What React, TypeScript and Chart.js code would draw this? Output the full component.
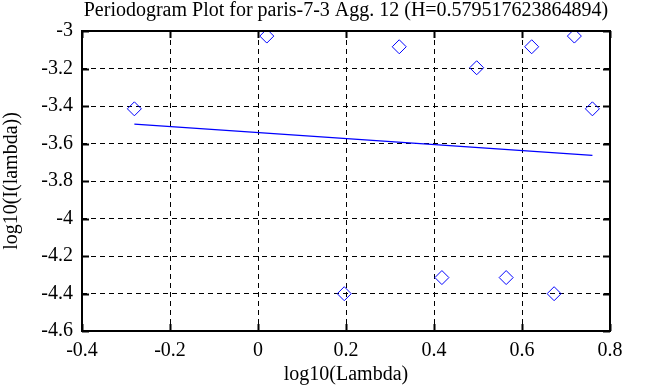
import React, { useEffect, useRef } from "react";
import { Chart, registerables } from "chart.js";

Chart.register(...registerables);

const chartTitle = "Periodogram Plot for paris-7-3 Agg. 12 (H=0.579517623864894)";
const xAxisTitle = "log10(Lambda)";
const yAxisTitle = "log10(I(lambda))";

const lambdaLog = [-0.281, 0.02, 0.196, 0.321, 0.418, 0.497, 0.564, 0.622, 0.673, 0.719, 0.76];
const periodogramLog = [-3.415, -3.027, -4.401, -3.084, -4.315, -3.196, -4.315, -3.084, -4.401, -3.027, -3.415];
const fitX = [-0.281, 0.76];
const fitY = [-3.497, -3.663];

const xTicks = [-0.4, -0.2, 0, 0.2, 0.4, 0.6, 0.8];
const yTicks = [-4.6, -4.4, -4.2, -4, -3.8, -3.6, -3.4, -3.2, -3];

const FONT_FAMILY = '"Liberation Serif", "Times New Roman", serif';
const FONT_SIZE = 20;

const fmt = (v: number) => String(Number(v.toFixed(1)));

const framePlugin = {
  id: "frame",
  afterDraw(chart: any) {
    const { ctx, chartArea } = chart;
    const { left, right, top, bottom } = chartArea;
    ctx.save();
    ctx.strokeStyle = "#000";
    ctx.lineWidth = 2;
    const tl = 7;
    const xs = chart.scales.x;
    const ys = chart.scales.y;
    ctx.beginPath();
    for (const t of xTicks) {
      const px = Math.round(xs.getPixelForValue(t)) + 0.5;
      ctx.moveTo(px, bottom);
      ctx.lineTo(px, bottom - tl);
      ctx.moveTo(px, top);
      ctx.lineTo(px, top + tl);
    }
    for (const t of yTicks) {
      const py = Math.round(ys.getPixelForValue(t)) + 0.5;
      ctx.moveTo(left, py);
      ctx.lineTo(left + tl, py);
      ctx.moveTo(right, py);
      ctx.lineTo(right - tl, py);
    }
    ctx.stroke();
    ctx.lineWidth = 2;
    ctx.strokeRect(left, top, right - left, bottom - top);
    ctx.fillStyle = "#000";
    ctx.font = `${FONT_SIZE}px ${FONT_FAMILY}`;
    ctx.textAlign = "center";
    ctx.textBaseline = "middle";
    ctx.fillText(chartTitle, (left + right) / 2, 11);
    ctx.restore();
  },
};

export default function App() {
  const ref = useRef<HTMLCanvasElement | null>(null);
  useEffect(() => {
    if (!ref.current) return;
    const chart = new Chart(ref.current, {
      type: "scatter",
      data: {
        datasets: [
          {
            label: "fit",
            data: fitX.map((x, i) => ({ x, y: fitY[i] })),
            showLine: true,
            borderColor: "#0000ff",
            borderWidth: 1.2,
            pointRadius: 0,
            fill: false,
          },
          {
            label: "periodogram",
            data: lambdaLog.map((x, i) => ({ x, y: periodogramLog[i] })),
            showLine: false,
            pointStyle: "rectRot",
            pointRadius: 7,
            borderColor: "#0000ff",
            backgroundColor: "rgba(0,0,0,0)",
            borderWidth: 1,
          },
        ],
      },
      options: {
        responsive: false,
        animation: false,
        layout: { padding: { left: 0, top: 31, right: 43, bottom: 0 } },
        plugins: { legend: { display: false }, title: { display: false }, tooltip: { enabled: false } },
        scales: {
          x: {
            type: "linear",
            min: -0.4,
            max: 0.8,
            afterBuildTicks: (s: any) => {
              s.ticks = xTicks.map((v) => ({ value: v }));
            },
            afterFit: (s: any) => {
              s.height = 56;
            },
            grid: { color: "#000", lineWidth: 1, drawTicks: false },
            border: { display: false, dash: [5, 4] },
            ticks: {
              color: "#000",
              padding: 8,
              maxRotation: 0,
              font: { family: FONT_FAMILY, size: FONT_SIZE },
              callback: (v: any) => fmt(Number(v)),
            },
            title: {
              display: true,
              text: xAxisTitle,
              color: "#000",
              padding: 0,
              font: { family: FONT_FAMILY, size: FONT_SIZE },
            },
          },
          y: {
            type: "linear",
            min: -4.6,
            max: -3,
            afterBuildTicks: (s: any) => {
              s.ticks = yTicks.map((v) => ({ value: v }));
            },
            afterFit: (s: any) => {
              s.width = 82;
            },
            grid: { color: "#000", lineWidth: 1, drawTicks: false },
            border: { display: false, dash: [5, 4] },
            ticks: {
              color: "#000",
              padding: 9,
              font: { family: FONT_FAMILY, size: FONT_SIZE },
              callback: (v: any) => fmt(Number(v)),
            },
            title: {
              display: true,
              text: yAxisTitle,
              color: "#000",
              padding: 0,
              font: { family: FONT_FAMILY, size: FONT_SIZE },
            },
          },
        },
      },
      plugins: [framePlugin],
    } as any);
    return () => chart.destroy();
  }, []);
  return (
    <div style={{ position: "fixed", left: 0, top: 0, width: 653, height: 387, background: "#fff" }}>
      <canvas ref={ref} width={653} height={387} />
    </div>
  );
}
